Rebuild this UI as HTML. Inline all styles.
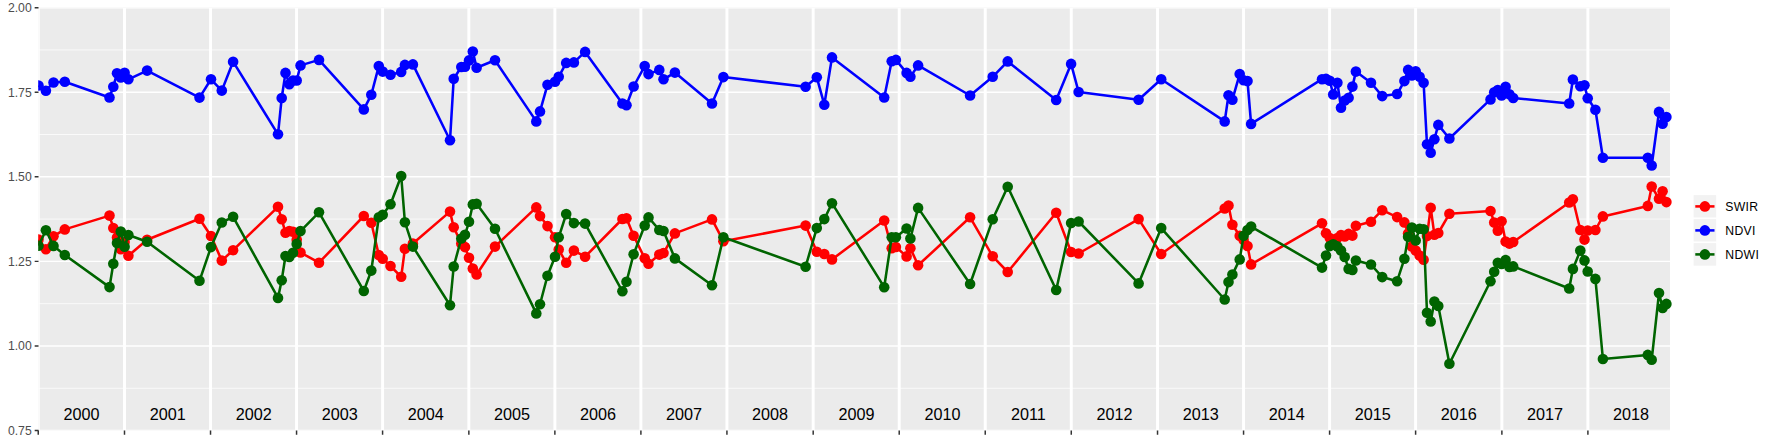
<!DOCTYPE html>
<html lang="en"><head><meta charset="utf-8"><title>Index time series</title>
<style>html,body{margin:0;padding:0;background:#fff}body{width:1773px;height:442px;overflow:hidden}svg{display:block}text{font-family:"Liberation Sans",sans-serif}</style></head><body>
<svg width="1773" height="442" viewBox="0 0 1773 442">
<defs><clipPath id="p"><rect x="38.20" y="7.64" width="1634.00" height="422.90"/></clipPath><clipPath id="g"><rect x="38.50" y="7.64" width="1631.50" height="422.90"/></clipPath></defs>
<rect width="1773" height="442" fill="#fff"/>
<rect x="38.50" y="7.64" width="1631.50" height="422.90" fill="#ebebeb"/>
<g clip-path="url(#g)">
<path d="M38.50 388.25H1670.00M38.50 303.67H1670.00M38.50 219.09H1670.00M38.50 134.51H1670.00M38.50 49.93H1670.00" stroke="#fff" stroke-width="0.74" fill="none"/>
<path d="M38.50 430.54H1670.00M38.50 345.96H1670.00M38.50 261.38H1670.00M38.50 176.80H1670.00M38.50 92.22H1670.00M38.50 7.64H1670.00" stroke="#fff" stroke-width="1.48" fill="none"/>
<path d="M38.24 7.64V430.54M124.50 7.64V430.54M210.53 7.64V430.54M296.56 7.64V430.54M382.58 7.64V430.54M468.85 7.64V430.54M554.87 7.64V430.54M640.90 7.64V430.54M726.93 7.64V430.54M813.19 7.64V430.54M899.22 7.64V430.54M985.24 7.64V430.54M1071.27 7.64V430.54M1157.53 7.64V430.54M1243.56 7.64V430.54M1329.59 7.64V430.54M1415.61 7.64V430.54M1501.88 7.64V430.54M1587.90 7.64V430.54" stroke="#fff" stroke-width="2.96" fill="none"/>
</g><g clip-path="url(#p)">
<g fill="#ff0000" stroke="none"><path d="M38.5 239.5L45.9 249.2L53.5 236.2L64.8 229.4L109.5 215.6L113.3 228.0L117.0 237.4L120.8 249.2L124.6 242.0L128.4 255.8L147.1 239.8L199.5 218.8L211.0 236.0L221.8 260.6L233.1 250.2L278.0 206.8L281.7 219.3L285.5 232.7L289.3 231.0L293.0 231.7L296.7 239.7L300.5 252.5L319.0 262.7L363.8 216.0L371.3 222.7L378.8 255.0L382.7 258.8L390.5 266.0L401.2 276.8L404.9 248.8L412.9 243.5L450.0 211.6L453.7 227.3L461.3 243.5L465.0 247.1L469.0 257.8L472.8 268.5L476.6 274.5L495.0 246.6L536.3 207.4L540.0 216.1L547.5 226.1L555.0 237.3L558.7 249.6L566.2 262.7L573.9 250.6L585.1 256.7L622.4 219.0L626.5 218.2L633.6 235.8L644.7 258.2L648.5 263.8L659.3 254.6L663.5 253.0L674.9 233.4L712.0 219.4L723.4 241.2L805.6 225.6L816.8 251.7L824.3 254.0L832.0 259.4L884.2 220.5L891.7 248.2L895.9 247.0L906.6 256.4L910.4 248.2L918.1 265.3L970.1 217.3L992.7 256.3L1007.7 272.0L1056.2 212.8L1071.1 252.0L1078.6 253.5L1138.6 219.1L1161.2 254.0L1224.7 208.5L1228.5 205.6L1232.4 224.8L1239.7 235.8L1243.6 240.0L1247.5 246.0L1251.1 264.4L1322.0 223.3L1326.0 233.3L1329.8 238.0L1333.2 240.0L1337.4 238.0L1341.0 235.0L1344.7 236.4L1348.6 233.9L1352.4 235.6L1355.9 225.8L1371.0 221.7L1382.2 210.2L1397.1 217.1L1404.4 222.4L1408.1 233.5L1411.9 246.5L1415.7 250.5L1419.6 255.6L1423.6 259.7L1427.0 236.0L1430.7 207.7L1434.4 234.8L1438.3 233.0L1449.4 213.8L1490.5 211.0L1494.2 222.6L1497.8 230.7L1501.6 221.2L1505.6 241.6L1509.4 243.6L1513.2 242.0L1569.2 202.5L1572.9 199.2L1580.3 230.0L1584.5 239.6L1587.7 230.5L1595.4 230.0L1602.9 216.4L1647.8 205.9L1651.7 186.5L1659.0 198.8L1662.6 191.3L1666.4 202.1" fill="none" stroke="#ff0000" stroke-width="2.55" stroke-linejoin="round" stroke-linecap="butt"/>
<circle cx="38.5" cy="239.5" r="5.3"/><circle cx="45.9" cy="249.2" r="5.3"/><circle cx="53.5" cy="236.2" r="5.3"/><circle cx="64.8" cy="229.4" r="5.3"/><circle cx="109.5" cy="215.6" r="5.3"/><circle cx="113.3" cy="228.0" r="5.3"/><circle cx="117.0" cy="237.4" r="5.3"/><circle cx="120.8" cy="249.2" r="5.3"/><circle cx="124.6" cy="242.0" r="5.3"/><circle cx="128.4" cy="255.8" r="5.3"/><circle cx="147.1" cy="239.8" r="5.3"/><circle cx="199.5" cy="218.8" r="5.3"/><circle cx="211.0" cy="236.0" r="5.3"/><circle cx="221.8" cy="260.6" r="5.3"/><circle cx="233.1" cy="250.2" r="5.3"/><circle cx="278.0" cy="206.8" r="5.3"/><circle cx="281.7" cy="219.3" r="5.3"/><circle cx="285.5" cy="232.7" r="5.3"/><circle cx="289.3" cy="231.0" r="5.3"/><circle cx="293.0" cy="231.7" r="5.3"/><circle cx="296.7" cy="239.7" r="5.3"/><circle cx="300.5" cy="252.5" r="5.3"/><circle cx="319.0" cy="262.7" r="5.3"/><circle cx="363.8" cy="216.0" r="5.3"/><circle cx="371.3" cy="222.7" r="5.3"/><circle cx="378.8" cy="255.0" r="5.3"/><circle cx="382.7" cy="258.8" r="5.3"/><circle cx="390.5" cy="266.0" r="5.3"/><circle cx="401.2" cy="276.8" r="5.3"/><circle cx="404.9" cy="248.8" r="5.3"/><circle cx="412.9" cy="243.5" r="5.3"/><circle cx="450.0" cy="211.6" r="5.3"/><circle cx="453.7" cy="227.3" r="5.3"/><circle cx="461.3" cy="243.5" r="5.3"/><circle cx="465.0" cy="247.1" r="5.3"/><circle cx="469.0" cy="257.8" r="5.3"/><circle cx="472.8" cy="268.5" r="5.3"/><circle cx="476.6" cy="274.5" r="5.3"/><circle cx="495.0" cy="246.6" r="5.3"/><circle cx="536.3" cy="207.4" r="5.3"/><circle cx="540.0" cy="216.1" r="5.3"/><circle cx="547.5" cy="226.1" r="5.3"/><circle cx="555.0" cy="237.3" r="5.3"/><circle cx="558.7" cy="249.6" r="5.3"/><circle cx="566.2" cy="262.7" r="5.3"/><circle cx="573.9" cy="250.6" r="5.3"/><circle cx="585.1" cy="256.7" r="5.3"/><circle cx="622.4" cy="219.0" r="5.3"/><circle cx="626.5" cy="218.2" r="5.3"/><circle cx="633.6" cy="235.8" r="5.3"/><circle cx="644.7" cy="258.2" r="5.3"/><circle cx="648.5" cy="263.8" r="5.3"/><circle cx="659.3" cy="254.6" r="5.3"/><circle cx="663.5" cy="253.0" r="5.3"/><circle cx="674.9" cy="233.4" r="5.3"/><circle cx="712.0" cy="219.4" r="5.3"/><circle cx="723.4" cy="241.2" r="5.3"/><circle cx="805.6" cy="225.6" r="5.3"/><circle cx="816.8" cy="251.7" r="5.3"/><circle cx="824.3" cy="254.0" r="5.3"/><circle cx="832.0" cy="259.4" r="5.3"/><circle cx="884.2" cy="220.5" r="5.3"/><circle cx="891.7" cy="248.2" r="5.3"/><circle cx="895.9" cy="247.0" r="5.3"/><circle cx="906.6" cy="256.4" r="5.3"/><circle cx="910.4" cy="248.2" r="5.3"/><circle cx="918.1" cy="265.3" r="5.3"/><circle cx="970.1" cy="217.3" r="5.3"/><circle cx="992.7" cy="256.3" r="5.3"/><circle cx="1007.7" cy="272.0" r="5.3"/><circle cx="1056.2" cy="212.8" r="5.3"/><circle cx="1071.1" cy="252.0" r="5.3"/><circle cx="1078.6" cy="253.5" r="5.3"/><circle cx="1138.6" cy="219.1" r="5.3"/><circle cx="1161.2" cy="254.0" r="5.3"/><circle cx="1224.7" cy="208.5" r="5.3"/><circle cx="1228.5" cy="205.6" r="5.3"/><circle cx="1232.4" cy="224.8" r="5.3"/><circle cx="1239.7" cy="235.8" r="5.3"/><circle cx="1243.6" cy="240.0" r="5.3"/><circle cx="1247.5" cy="246.0" r="5.3"/><circle cx="1251.1" cy="264.4" r="5.3"/><circle cx="1322.0" cy="223.3" r="5.3"/><circle cx="1326.0" cy="233.3" r="5.3"/><circle cx="1329.8" cy="238.0" r="5.3"/><circle cx="1333.2" cy="240.0" r="5.3"/><circle cx="1337.4" cy="238.0" r="5.3"/><circle cx="1341.0" cy="235.0" r="5.3"/><circle cx="1344.7" cy="236.4" r="5.3"/><circle cx="1348.6" cy="233.9" r="5.3"/><circle cx="1352.4" cy="235.6" r="5.3"/><circle cx="1355.9" cy="225.8" r="5.3"/><circle cx="1371.0" cy="221.7" r="5.3"/><circle cx="1382.2" cy="210.2" r="5.3"/><circle cx="1397.1" cy="217.1" r="5.3"/><circle cx="1404.4" cy="222.4" r="5.3"/><circle cx="1408.1" cy="233.5" r="5.3"/><circle cx="1411.9" cy="246.5" r="5.3"/><circle cx="1415.7" cy="250.5" r="5.3"/><circle cx="1419.6" cy="255.6" r="5.3"/><circle cx="1423.6" cy="259.7" r="5.3"/><circle cx="1427.0" cy="236.0" r="5.3"/><circle cx="1430.7" cy="207.7" r="5.3"/><circle cx="1434.4" cy="234.8" r="5.3"/><circle cx="1438.3" cy="233.0" r="5.3"/><circle cx="1449.4" cy="213.8" r="5.3"/><circle cx="1490.5" cy="211.0" r="5.3"/><circle cx="1494.2" cy="222.6" r="5.3"/><circle cx="1497.8" cy="230.7" r="5.3"/><circle cx="1501.6" cy="221.2" r="5.3"/><circle cx="1505.6" cy="241.6" r="5.3"/><circle cx="1509.4" cy="243.6" r="5.3"/><circle cx="1513.2" cy="242.0" r="5.3"/><circle cx="1569.2" cy="202.5" r="5.3"/><circle cx="1572.9" cy="199.2" r="5.3"/><circle cx="1580.3" cy="230.0" r="5.3"/><circle cx="1584.5" cy="239.6" r="5.3"/><circle cx="1587.7" cy="230.5" r="5.3"/><circle cx="1595.4" cy="230.0" r="5.3"/><circle cx="1602.9" cy="216.4" r="5.3"/><circle cx="1647.8" cy="205.9" r="5.3"/><circle cx="1651.7" cy="186.5" r="5.3"/><circle cx="1659.0" cy="198.8" r="5.3"/><circle cx="1662.6" cy="191.3" r="5.3"/><circle cx="1666.4" cy="202.1" r="5.3"/>
</g>
<g fill="#0000ff" stroke="none"><path d="M38.5 85.5L45.9 90.7L53.5 82.5L64.8 81.8L109.5 97.5L113.3 86.8L117.0 73.3L120.8 77.5L124.6 72.8L128.4 79.3L147.1 70.6L199.5 97.6L211.0 79.3L221.8 90.6L233.1 61.7L278.0 134.3L281.7 98.0L285.5 72.9L289.3 84.2L293.0 80.5L296.7 80.5L300.5 65.4L319.0 59.9L363.8 109.4L371.3 94.8L378.8 66.1L382.7 71.6L390.5 74.8L401.2 71.9L404.9 64.9L412.9 64.4L450.0 140.3L453.7 78.8L461.3 67.0L465.0 66.8L469.0 60.4L472.8 51.5L476.6 67.8L495.0 60.3L536.3 121.4L540.0 111.4L547.5 84.8L555.0 81.8L558.7 76.8L566.2 62.9L573.9 62.4L585.1 51.9L622.4 103.5L626.5 105.2L633.6 86.5L644.7 66.1L648.5 74.1L659.3 69.9L663.5 79.3L674.9 72.6L712.0 103.5L723.4 77.1L805.6 86.8L816.8 77.3L824.3 104.7L832.0 57.4L884.2 97.5L891.7 61.2L895.9 59.9L906.6 72.9L910.4 76.8L918.1 65.4L970.1 95.5L992.7 76.8L1007.7 61.4L1056.2 100.0L1071.1 63.9L1078.6 92.0L1138.6 99.7L1161.2 79.3L1224.7 121.4L1228.5 95.3L1232.4 99.7L1239.7 74.1L1243.6 80.3L1247.5 81.1L1251.1 123.9L1322.0 79.2L1326.0 78.9L1329.8 80.8L1333.2 94.4L1337.4 82.8L1341.0 107.7L1344.7 100.5L1348.6 97.8L1352.4 86.6L1355.9 71.6L1371.0 82.8L1382.2 96.1L1397.1 94.0L1404.4 81.1L1408.1 69.9L1411.9 75.4L1415.7 71.3L1419.6 76.7L1423.6 82.7L1427.0 144.3L1430.7 152.8L1434.4 139.2L1438.3 124.9L1449.4 138.5L1490.5 99.4L1494.2 92.3L1497.8 90.0L1501.6 95.4L1505.6 86.7L1509.4 94.3L1513.2 98.0L1569.2 103.5L1572.9 79.5L1580.3 86.2L1584.5 85.3L1587.7 98.2L1595.4 109.7L1602.9 157.8L1647.8 157.8L1651.7 165.5L1659.0 111.9L1662.6 123.7L1666.4 117.0" fill="none" stroke="#0000ff" stroke-width="2.55" stroke-linejoin="round" stroke-linecap="butt"/>
<circle cx="38.5" cy="85.5" r="5.3"/><circle cx="45.9" cy="90.7" r="5.3"/><circle cx="53.5" cy="82.5" r="5.3"/><circle cx="64.8" cy="81.8" r="5.3"/><circle cx="109.5" cy="97.5" r="5.3"/><circle cx="113.3" cy="86.8" r="5.3"/><circle cx="117.0" cy="73.3" r="5.3"/><circle cx="120.8" cy="77.5" r="5.3"/><circle cx="124.6" cy="72.8" r="5.3"/><circle cx="128.4" cy="79.3" r="5.3"/><circle cx="147.1" cy="70.6" r="5.3"/><circle cx="199.5" cy="97.6" r="5.3"/><circle cx="211.0" cy="79.3" r="5.3"/><circle cx="221.8" cy="90.6" r="5.3"/><circle cx="233.1" cy="61.7" r="5.3"/><circle cx="278.0" cy="134.3" r="5.3"/><circle cx="281.7" cy="98.0" r="5.3"/><circle cx="285.5" cy="72.9" r="5.3"/><circle cx="289.3" cy="84.2" r="5.3"/><circle cx="293.0" cy="80.5" r="5.3"/><circle cx="296.7" cy="80.5" r="5.3"/><circle cx="300.5" cy="65.4" r="5.3"/><circle cx="319.0" cy="59.9" r="5.3"/><circle cx="363.8" cy="109.4" r="5.3"/><circle cx="371.3" cy="94.8" r="5.3"/><circle cx="378.8" cy="66.1" r="5.3"/><circle cx="382.7" cy="71.6" r="5.3"/><circle cx="390.5" cy="74.8" r="5.3"/><circle cx="401.2" cy="71.9" r="5.3"/><circle cx="404.9" cy="64.9" r="5.3"/><circle cx="412.9" cy="64.4" r="5.3"/><circle cx="450.0" cy="140.3" r="5.3"/><circle cx="453.7" cy="78.8" r="5.3"/><circle cx="461.3" cy="67.0" r="5.3"/><circle cx="465.0" cy="66.8" r="5.3"/><circle cx="469.0" cy="60.4" r="5.3"/><circle cx="472.8" cy="51.5" r="5.3"/><circle cx="476.6" cy="67.8" r="5.3"/><circle cx="495.0" cy="60.3" r="5.3"/><circle cx="536.3" cy="121.4" r="5.3"/><circle cx="540.0" cy="111.4" r="5.3"/><circle cx="547.5" cy="84.8" r="5.3"/><circle cx="555.0" cy="81.8" r="5.3"/><circle cx="558.7" cy="76.8" r="5.3"/><circle cx="566.2" cy="62.9" r="5.3"/><circle cx="573.9" cy="62.4" r="5.3"/><circle cx="585.1" cy="51.9" r="5.3"/><circle cx="622.4" cy="103.5" r="5.3"/><circle cx="626.5" cy="105.2" r="5.3"/><circle cx="633.6" cy="86.5" r="5.3"/><circle cx="644.7" cy="66.1" r="5.3"/><circle cx="648.5" cy="74.1" r="5.3"/><circle cx="659.3" cy="69.9" r="5.3"/><circle cx="663.5" cy="79.3" r="5.3"/><circle cx="674.9" cy="72.6" r="5.3"/><circle cx="712.0" cy="103.5" r="5.3"/><circle cx="723.4" cy="77.1" r="5.3"/><circle cx="805.6" cy="86.8" r="5.3"/><circle cx="816.8" cy="77.3" r="5.3"/><circle cx="824.3" cy="104.7" r="5.3"/><circle cx="832.0" cy="57.4" r="5.3"/><circle cx="884.2" cy="97.5" r="5.3"/><circle cx="891.7" cy="61.2" r="5.3"/><circle cx="895.9" cy="59.9" r="5.3"/><circle cx="906.6" cy="72.9" r="5.3"/><circle cx="910.4" cy="76.8" r="5.3"/><circle cx="918.1" cy="65.4" r="5.3"/><circle cx="970.1" cy="95.5" r="5.3"/><circle cx="992.7" cy="76.8" r="5.3"/><circle cx="1007.7" cy="61.4" r="5.3"/><circle cx="1056.2" cy="100.0" r="5.3"/><circle cx="1071.1" cy="63.9" r="5.3"/><circle cx="1078.6" cy="92.0" r="5.3"/><circle cx="1138.6" cy="99.7" r="5.3"/><circle cx="1161.2" cy="79.3" r="5.3"/><circle cx="1224.7" cy="121.4" r="5.3"/><circle cx="1228.5" cy="95.3" r="5.3"/><circle cx="1232.4" cy="99.7" r="5.3"/><circle cx="1239.7" cy="74.1" r="5.3"/><circle cx="1243.6" cy="80.3" r="5.3"/><circle cx="1247.5" cy="81.1" r="5.3"/><circle cx="1251.1" cy="123.9" r="5.3"/><circle cx="1322.0" cy="79.2" r="5.3"/><circle cx="1326.0" cy="78.9" r="5.3"/><circle cx="1329.8" cy="80.8" r="5.3"/><circle cx="1333.2" cy="94.4" r="5.3"/><circle cx="1337.4" cy="82.8" r="5.3"/><circle cx="1341.0" cy="107.7" r="5.3"/><circle cx="1344.7" cy="100.5" r="5.3"/><circle cx="1348.6" cy="97.8" r="5.3"/><circle cx="1352.4" cy="86.6" r="5.3"/><circle cx="1355.9" cy="71.6" r="5.3"/><circle cx="1371.0" cy="82.8" r="5.3"/><circle cx="1382.2" cy="96.1" r="5.3"/><circle cx="1397.1" cy="94.0" r="5.3"/><circle cx="1404.4" cy="81.1" r="5.3"/><circle cx="1408.1" cy="69.9" r="5.3"/><circle cx="1411.9" cy="75.4" r="5.3"/><circle cx="1415.7" cy="71.3" r="5.3"/><circle cx="1419.6" cy="76.7" r="5.3"/><circle cx="1423.6" cy="82.7" r="5.3"/><circle cx="1427.0" cy="144.3" r="5.3"/><circle cx="1430.7" cy="152.8" r="5.3"/><circle cx="1434.4" cy="139.2" r="5.3"/><circle cx="1438.3" cy="124.9" r="5.3"/><circle cx="1449.4" cy="138.5" r="5.3"/><circle cx="1490.5" cy="99.4" r="5.3"/><circle cx="1494.2" cy="92.3" r="5.3"/><circle cx="1497.8" cy="90.0" r="5.3"/><circle cx="1501.6" cy="95.4" r="5.3"/><circle cx="1505.6" cy="86.7" r="5.3"/><circle cx="1509.4" cy="94.3" r="5.3"/><circle cx="1513.2" cy="98.0" r="5.3"/><circle cx="1569.2" cy="103.5" r="5.3"/><circle cx="1572.9" cy="79.5" r="5.3"/><circle cx="1580.3" cy="86.2" r="5.3"/><circle cx="1584.5" cy="85.3" r="5.3"/><circle cx="1587.7" cy="98.2" r="5.3"/><circle cx="1595.4" cy="109.7" r="5.3"/><circle cx="1602.9" cy="157.8" r="5.3"/><circle cx="1647.8" cy="157.8" r="5.3"/><circle cx="1651.7" cy="165.5" r="5.3"/><circle cx="1659.0" cy="111.9" r="5.3"/><circle cx="1662.6" cy="123.7" r="5.3"/><circle cx="1666.4" cy="117.0" r="5.3"/>
</g>
<g fill="#006400" stroke="none"><path d="M38.5 245.8L45.9 230.3L53.5 245.9L64.8 255.0L109.5 287.1L113.3 263.8L117.0 243.0L120.8 231.6L124.6 246.8L128.4 235.0L147.1 241.8L199.5 280.8L211.0 247.1L221.8 222.5L233.1 216.8L278.0 297.9L281.7 280.3L285.5 256.0L289.3 257.0L293.0 252.8L296.7 243.9L300.5 231.1L319.0 212.3L363.8 291.0L371.3 270.6L378.8 217.3L382.7 214.8L390.5 204.3L401.2 176.0L404.9 222.2L412.9 246.6L450.0 305.2L453.7 266.5L461.3 238.5L465.0 234.8L469.0 221.8L472.8 204.4L476.6 203.7L495.0 228.8L536.3 313.4L540.0 304.2L547.5 275.7L555.0 256.7L558.7 237.3L566.2 214.1L573.9 223.1L585.1 223.6L622.4 291.3L626.5 281.7L633.6 254.2L644.7 225.5L648.5 217.4L659.3 230.0L663.5 231.0L674.9 258.4L712.0 285.3L723.4 237.3L805.6 266.7L816.8 228.1L824.3 219.1L832.0 203.2L884.2 287.2L891.7 237.2L895.9 237.2L906.6 228.5L910.4 238.5L918.1 207.9L970.1 284.0L992.7 219.3L1007.7 186.7L1056.2 290.0L1071.1 223.0L1078.6 221.5L1138.6 283.4L1161.2 228.1L1224.7 299.5L1228.5 282.1L1232.4 274.6L1239.7 259.4L1243.6 235.8L1247.5 230.0L1251.1 226.6L1322.0 267.6L1326.0 255.6L1329.8 246.1L1333.2 244.2L1337.4 246.4L1341.0 250.5L1344.7 257.0L1348.6 268.9L1352.4 270.0L1355.9 260.5L1371.0 264.5L1382.2 277.1L1397.1 281.2L1404.4 258.8L1408.1 236.7L1411.9 227.6L1415.7 240.5L1419.6 228.7L1423.6 229.2L1427.0 312.8L1430.7 321.5L1434.4 301.5L1438.3 306.0L1449.4 363.7L1490.5 281.3L1494.2 271.8L1497.8 262.7L1501.6 264.0L1505.6 260.0L1509.4 266.9L1513.2 266.4L1569.2 288.5L1572.9 268.9L1580.3 250.6L1584.5 260.4L1587.7 271.5L1595.4 278.9L1602.9 359.0L1647.8 354.9L1651.7 359.8L1659.0 293.1L1662.6 308.0L1666.4 303.9" fill="none" stroke="#006400" stroke-width="2.55" stroke-linejoin="round" stroke-linecap="butt"/>
<circle cx="38.5" cy="245.8" r="5.3"/><circle cx="45.9" cy="230.3" r="5.3"/><circle cx="53.5" cy="245.9" r="5.3"/><circle cx="64.8" cy="255.0" r="5.3"/><circle cx="109.5" cy="287.1" r="5.3"/><circle cx="113.3" cy="263.8" r="5.3"/><circle cx="117.0" cy="243.0" r="5.3"/><circle cx="120.8" cy="231.6" r="5.3"/><circle cx="124.6" cy="246.8" r="5.3"/><circle cx="128.4" cy="235.0" r="5.3"/><circle cx="147.1" cy="241.8" r="5.3"/><circle cx="199.5" cy="280.8" r="5.3"/><circle cx="211.0" cy="247.1" r="5.3"/><circle cx="221.8" cy="222.5" r="5.3"/><circle cx="233.1" cy="216.8" r="5.3"/><circle cx="278.0" cy="297.9" r="5.3"/><circle cx="281.7" cy="280.3" r="5.3"/><circle cx="285.5" cy="256.0" r="5.3"/><circle cx="289.3" cy="257.0" r="5.3"/><circle cx="293.0" cy="252.8" r="5.3"/><circle cx="296.7" cy="243.9" r="5.3"/><circle cx="300.5" cy="231.1" r="5.3"/><circle cx="319.0" cy="212.3" r="5.3"/><circle cx="363.8" cy="291.0" r="5.3"/><circle cx="371.3" cy="270.6" r="5.3"/><circle cx="378.8" cy="217.3" r="5.3"/><circle cx="382.7" cy="214.8" r="5.3"/><circle cx="390.5" cy="204.3" r="5.3"/><circle cx="401.2" cy="176.0" r="5.3"/><circle cx="404.9" cy="222.2" r="5.3"/><circle cx="412.9" cy="246.6" r="5.3"/><circle cx="450.0" cy="305.2" r="5.3"/><circle cx="453.7" cy="266.5" r="5.3"/><circle cx="461.3" cy="238.5" r="5.3"/><circle cx="465.0" cy="234.8" r="5.3"/><circle cx="469.0" cy="221.8" r="5.3"/><circle cx="472.8" cy="204.4" r="5.3"/><circle cx="476.6" cy="203.7" r="5.3"/><circle cx="495.0" cy="228.8" r="5.3"/><circle cx="536.3" cy="313.4" r="5.3"/><circle cx="540.0" cy="304.2" r="5.3"/><circle cx="547.5" cy="275.7" r="5.3"/><circle cx="555.0" cy="256.7" r="5.3"/><circle cx="558.7" cy="237.3" r="5.3"/><circle cx="566.2" cy="214.1" r="5.3"/><circle cx="573.9" cy="223.1" r="5.3"/><circle cx="585.1" cy="223.6" r="5.3"/><circle cx="622.4" cy="291.3" r="5.3"/><circle cx="626.5" cy="281.7" r="5.3"/><circle cx="633.6" cy="254.2" r="5.3"/><circle cx="644.7" cy="225.5" r="5.3"/><circle cx="648.5" cy="217.4" r="5.3"/><circle cx="659.3" cy="230.0" r="5.3"/><circle cx="663.5" cy="231.0" r="5.3"/><circle cx="674.9" cy="258.4" r="5.3"/><circle cx="712.0" cy="285.3" r="5.3"/><circle cx="723.4" cy="237.3" r="5.3"/><circle cx="805.6" cy="266.7" r="5.3"/><circle cx="816.8" cy="228.1" r="5.3"/><circle cx="824.3" cy="219.1" r="5.3"/><circle cx="832.0" cy="203.2" r="5.3"/><circle cx="884.2" cy="287.2" r="5.3"/><circle cx="891.7" cy="237.2" r="5.3"/><circle cx="895.9" cy="237.2" r="5.3"/><circle cx="906.6" cy="228.5" r="5.3"/><circle cx="910.4" cy="238.5" r="5.3"/><circle cx="918.1" cy="207.9" r="5.3"/><circle cx="970.1" cy="284.0" r="5.3"/><circle cx="992.7" cy="219.3" r="5.3"/><circle cx="1007.7" cy="186.7" r="5.3"/><circle cx="1056.2" cy="290.0" r="5.3"/><circle cx="1071.1" cy="223.0" r="5.3"/><circle cx="1078.6" cy="221.5" r="5.3"/><circle cx="1138.6" cy="283.4" r="5.3"/><circle cx="1161.2" cy="228.1" r="5.3"/><circle cx="1224.7" cy="299.5" r="5.3"/><circle cx="1228.5" cy="282.1" r="5.3"/><circle cx="1232.4" cy="274.6" r="5.3"/><circle cx="1239.7" cy="259.4" r="5.3"/><circle cx="1243.6" cy="235.8" r="5.3"/><circle cx="1247.5" cy="230.0" r="5.3"/><circle cx="1251.1" cy="226.6" r="5.3"/><circle cx="1322.0" cy="267.6" r="5.3"/><circle cx="1326.0" cy="255.6" r="5.3"/><circle cx="1329.8" cy="246.1" r="5.3"/><circle cx="1333.2" cy="244.2" r="5.3"/><circle cx="1337.4" cy="246.4" r="5.3"/><circle cx="1341.0" cy="250.5" r="5.3"/><circle cx="1344.7" cy="257.0" r="5.3"/><circle cx="1348.6" cy="268.9" r="5.3"/><circle cx="1352.4" cy="270.0" r="5.3"/><circle cx="1355.9" cy="260.5" r="5.3"/><circle cx="1371.0" cy="264.5" r="5.3"/><circle cx="1382.2" cy="277.1" r="5.3"/><circle cx="1397.1" cy="281.2" r="5.3"/><circle cx="1404.4" cy="258.8" r="5.3"/><circle cx="1408.1" cy="236.7" r="5.3"/><circle cx="1411.9" cy="227.6" r="5.3"/><circle cx="1415.7" cy="240.5" r="5.3"/><circle cx="1419.6" cy="228.7" r="5.3"/><circle cx="1423.6" cy="229.2" r="5.3"/><circle cx="1427.0" cy="312.8" r="5.3"/><circle cx="1430.7" cy="321.5" r="5.3"/><circle cx="1434.4" cy="301.5" r="5.3"/><circle cx="1438.3" cy="306.0" r="5.3"/><circle cx="1449.4" cy="363.7" r="5.3"/><circle cx="1490.5" cy="281.3" r="5.3"/><circle cx="1494.2" cy="271.8" r="5.3"/><circle cx="1497.8" cy="262.7" r="5.3"/><circle cx="1501.6" cy="264.0" r="5.3"/><circle cx="1505.6" cy="260.0" r="5.3"/><circle cx="1509.4" cy="266.9" r="5.3"/><circle cx="1513.2" cy="266.4" r="5.3"/><circle cx="1569.2" cy="288.5" r="5.3"/><circle cx="1572.9" cy="268.9" r="5.3"/><circle cx="1580.3" cy="250.6" r="5.3"/><circle cx="1584.5" cy="260.4" r="5.3"/><circle cx="1587.7" cy="271.5" r="5.3"/><circle cx="1595.4" cy="278.9" r="5.3"/><circle cx="1602.9" cy="359.0" r="5.3"/><circle cx="1647.8" cy="354.9" r="5.3"/><circle cx="1651.7" cy="359.8" r="5.3"/><circle cx="1659.0" cy="293.1" r="5.3"/><circle cx="1662.6" cy="308.0" r="5.3"/><circle cx="1666.4" cy="303.9" r="5.3"/>
</g>
<g font-size="16.2px" fill="#000" text-anchor="middle">
<text x="81.4" y="419.8">2000</text>
<text x="167.7" y="419.8">2001</text>
<text x="253.7" y="419.8">2002</text>
<text x="339.8" y="419.8">2003</text>
<text x="425.8" y="419.8">2004</text>
<text x="512.0" y="419.8">2005</text>
<text x="598.1" y="419.8">2006</text>
<text x="684.1" y="419.8">2007</text>
<text x="770.1" y="419.8">2008</text>
<text x="856.4" y="419.8">2009</text>
<text x="942.4" y="419.8">2010</text>
<text x="1028.4" y="419.8">2011</text>
<text x="1114.5" y="419.8">2012</text>
<text x="1200.7" y="419.8">2013</text>
<text x="1286.8" y="419.8">2014</text>
<text x="1372.8" y="419.8">2015</text>
<text x="1458.8" y="419.8">2016</text>
<text x="1545.1" y="419.8">2017</text>
<text x="1631.1" y="419.8">2018</text>
</g>
</g>
<path d="M38.24 430.54V434.74M124.50 430.54V434.74M210.53 430.54V434.74M296.56 430.54V434.74M382.58 430.54V434.74M468.85 430.54V434.74M554.87 430.54V434.74M640.90 430.54V434.74M726.93 430.54V434.74M813.19 430.54V434.74M899.22 430.54V434.74M985.24 430.54V434.74M1071.27 430.54V434.74M1157.53 430.54V434.74M1243.56 430.54V434.74M1329.59 430.54V434.74M1415.61 430.54V434.74M1501.88 430.54V434.74M1587.90 430.54V434.74M34.68 430.54H38.50M34.68 345.96H38.50M34.68 261.38H38.50M34.68 176.80H38.50M34.68 92.22H38.50M34.68 7.64H38.50" stroke="#333" stroke-width="1.48" fill="none"/>
<g font-size="12.22px" fill="#4d4d4d" text-anchor="end">
<text x="31.7" y="434.9">0.75</text>
<text x="31.7" y="350.4">1.00</text>
<text x="31.7" y="265.8">1.25</text>
<text x="31.7" y="181.2">1.50</text>
<text x="31.7" y="96.6">1.75</text>
<text x="31.7" y="12.0">2.00</text>
</g>
<rect x="1692.90" y="194.40" width="24.00" height="24.00" fill="#f2f2f2" stroke="#fff" stroke-width="1.48"/>
<path d="M1695.30 206.40H1714.50" stroke="#ff0000" stroke-width="2.55"/>
<circle cx="1704.90" cy="206.40" r="5.3" fill="#ff0000"/>
<text x="1725.3" y="210.8" font-size="12.22px" letter-spacing="0.3" fill="#000">SWIR</text>
<rect x="1692.90" y="218.40" width="24.00" height="24.00" fill="#f2f2f2" stroke="#fff" stroke-width="1.48"/>
<path d="M1695.30 230.40H1714.50" stroke="#0000ff" stroke-width="2.55"/>
<circle cx="1704.90" cy="230.40" r="5.3" fill="#0000ff"/>
<text x="1725.3" y="234.8" font-size="12.22px" letter-spacing="0.3" fill="#000">NDVI</text>
<rect x="1692.90" y="242.40" width="24.00" height="24.00" fill="#f2f2f2" stroke="#fff" stroke-width="1.48"/>
<path d="M1695.30 254.40H1714.50" stroke="#006400" stroke-width="2.55"/>
<circle cx="1704.90" cy="254.40" r="5.3" fill="#006400"/>
<text x="1725.3" y="258.8" font-size="12.22px" letter-spacing="0.3" fill="#000">NDWI</text>
</svg></body></html>
